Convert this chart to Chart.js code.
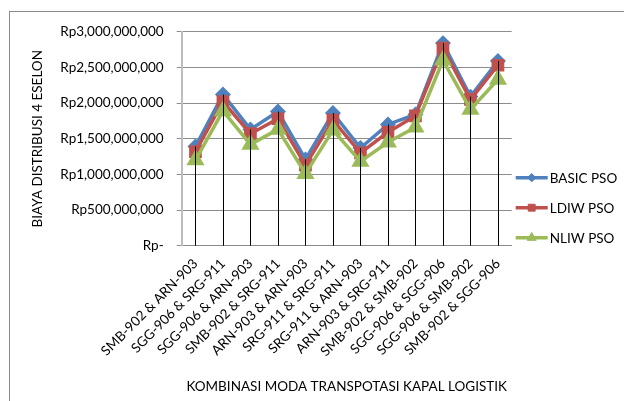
<!DOCTYPE html>
<html>
<head>
<meta charset="utf-8">
<script src="https://cdn.jsdelivr.net/npm/chart.js@4.4.1/dist/chart.umd.min.js"></script>
<style>
  html, body { margin: 0; padding: 0; background: #fff; }
  #wrap { width: 624px; height: 401px; }
</style>
</head>
<body>
<div id="wrap"><canvas id="grafik"></canvas></div>
<script>
// Data kombinasi moda
const KATEGORI = [
  "SMB-902 & ARN-903", "SGG-906 & SRG-911", "SGG-906 & ARN-903", "SMB-902 & SRG-911",
  "ARN-903 & ARN-903", "SRG-911 & SRG-911", "SRG-911 & ARN-903", "ARN-903 & SRG-911",
  "SMB-902 & SMB-902", "SGG-906 & SGG-906", "SGG-906 & SMB-902", "SMB-902 & SGG-906"
];
const BASIC_PSO = [1.39e9, 2.12e9, 1.63e9, 1.88e9, 1.21e9, 1.86e9, 1.37e9, 1.70e9, 1.84e9, 2.84e9, 2.09e9, 2.59e9];
const LDIW_PSO  = [1.32e9, 2.02e9, 1.57e9, 1.78e9, 1.13e9, 1.76e9, 1.30e9, 1.59e9, 1.82e9, 2.77e9, 2.05e9, 2.53e9];
const NLIW_PSO  = [1.20e9, 1.89e9, 1.42e9, 1.63e9, 1.01e9, 1.62e9, 1.18e9, 1.45e9, 1.66e9, 2.60e9, 1.91e9, 2.33e9];
const Y_MIN = 0, Y_MAX = 3e9, Y_STEP = 5e8;

const BIRU = "#4F81BD";
const MERAH = "#C0504D";
const HIJAU = "#9BBB59";
const GRID = "#8c8c8c";
const TEKS = "#000000";
const FONT = "Lato, 'Open Sans', sans-serif";

function rupiah(v) {
  if (v === 0) return "Rp-";
  return "Rp" + v.toLocaleString("en-US");
}

// Bingkai luar (hanya sisi kiri & atas terlihat)
const bingkai = {
  id: "bingkai",
  beforeDraw(chart) {
    const c = chart.ctx;
    c.save();
    c.strokeStyle = "#8a8a8a";
    c.lineWidth = 1;
    c.strokeRect(9.5, 11.5, 1000, 1000);
    c.restore();
  }
};

// Garis jatuh dari titik tertinggi ke sumbu X
const garisJatuh = {
  id: "garisJatuh",
  afterDatasetsDraw(chart) {
    const c = chart.ctx;
    const x = chart.scales.x, y = chart.scales.y;
    c.save();
    c.strokeStyle = "#000";
    c.lineWidth = 1;
    KATEGORI.forEach((_, i) => {
      const top = Math.max(BASIC_PSO[i], LDIW_PSO[i], NLIW_PSO[i]);
      const px = Math.round(x.getPixelForValue(i)) + 0.5;
      c.beginPath();
      c.moveTo(px, y.getPixelForValue(top));
      c.lineTo(px, chart.chartArea.bottom);
      c.stroke();
    });
    c.restore();
  }
};

// Legenda gaya Excel: garis + penanda
const legenda = {
  id: "legenda",
  afterDraw(chart) {
    const c = chart.ctx;
    const a = chart.chartArea;
    const x0 = a.right + 4, x1 = x0 + 32;
    c.save();
    c.font = "13.5px " + FONT;
    c.textBaseline = "middle";
    chart.data.datasets.forEach((ds, i) => {
      const yy = a.bottom - 68 + i * 30;
      c.strokeStyle = ds.borderColor;
      c.fillStyle = ds.borderColor;
      c.lineWidth = 3.5;
      c.beginPath();
      c.moveTo(x0, yy);
      c.lineTo(x1, yy);
      c.stroke();
      c.lineWidth = 1;
      Chart.helpers.drawPoint(c, {
        pointStyle: ds.pointStyle, radius: ds.pointRadius * 0.75, rotation: 0, borderWidth: 1
      }, (x0 + x1) / 2, yy);
      c.fillStyle = TEKS;
      c.fillText(ds.label, x1 + 2, yy + 1);
    });
    c.restore();
  }
};

function seri(label, data, warna, gaya, r, urut) {
  return {
    label, data,
    borderColor: warna,
    backgroundColor: warna,
    pointBackgroundColor: warna,
    pointBorderColor: warna,
    pointStyle: gaya,
    pointRadius: r,
    pointHoverRadius: r,
    borderWidth: 3.5,
    tension: 0,
    order: urut
  };
}

new Chart(document.getElementById("grafik"), {
  type: "line",
  data: {
    labels: KATEGORI,
    datasets: [
      seri("BASIC PSO", BASIC_PSO, BIRU, "rectRot", 5.5, 3),
      seri("LDIW PSO", LDIW_PSO, MERAH, "rect", 6.5, 2),
      seri("NLIW PSO", NLIW_PSO, HIJAU, "triangle", 7, 1)
    ]
  },
  plugins: [bingkai, garisJatuh, legenda],
  options: {
    responsive: true,
    maintainAspectRatio: false,
    animation: false,
    layout: { padding: { left: 0, top: 31.7, right: 112.3, bottom: 0 } },
    scales: {
      x: {
        offset: true,
        afterFit(s) { s.height = 155.3; },
        grid: { display: false },
        border: { display: true, color: GRID, width: 1 },
        ticks: {
          color: TEKS,
          font: { size: 13.5, family: FONT },
          minRotation: 45, maxRotation: 45,
          autoSkip: false,
          padding: 2
        },
        title: {
          display: true,
          text: "KOMBINASI MODA TRANSPOTASI KAPAL LOGISTIK",
          color: TEKS,
          font: { size: 13.5, family: FONT },
          padding: { top: 0, bottom: 6 }
        }
      },
      y: {
        min: Y_MIN, max: Y_MAX,
        afterFit(s) { s.width = 181.7; },
        grid: { color: GRID, lineWidth: 1, tickLength: 5, tickColor: GRID },
        border: { display: true, color: "#bdbdbd", width: 2 },
        ticks: {
          stepSize: Y_STEP,
          color: TEKS,
          font: { size: 13.5, family: FONT },
          padding: 13,
          callback: (v) => rupiah(v)
        },
        title: {
          display: true,
          text: "BIAYA DISTRIBUSI 4 ESELON",
          color: TEKS,
          font: { size: 13.5, family: FONT },
          padding: { top: 30, bottom: 0 }
        }
      }
    },
    plugins: {
      legend: { display: false },
      tooltip: { enabled: false }
    }
  }
});
</script>
</body>
</html>
